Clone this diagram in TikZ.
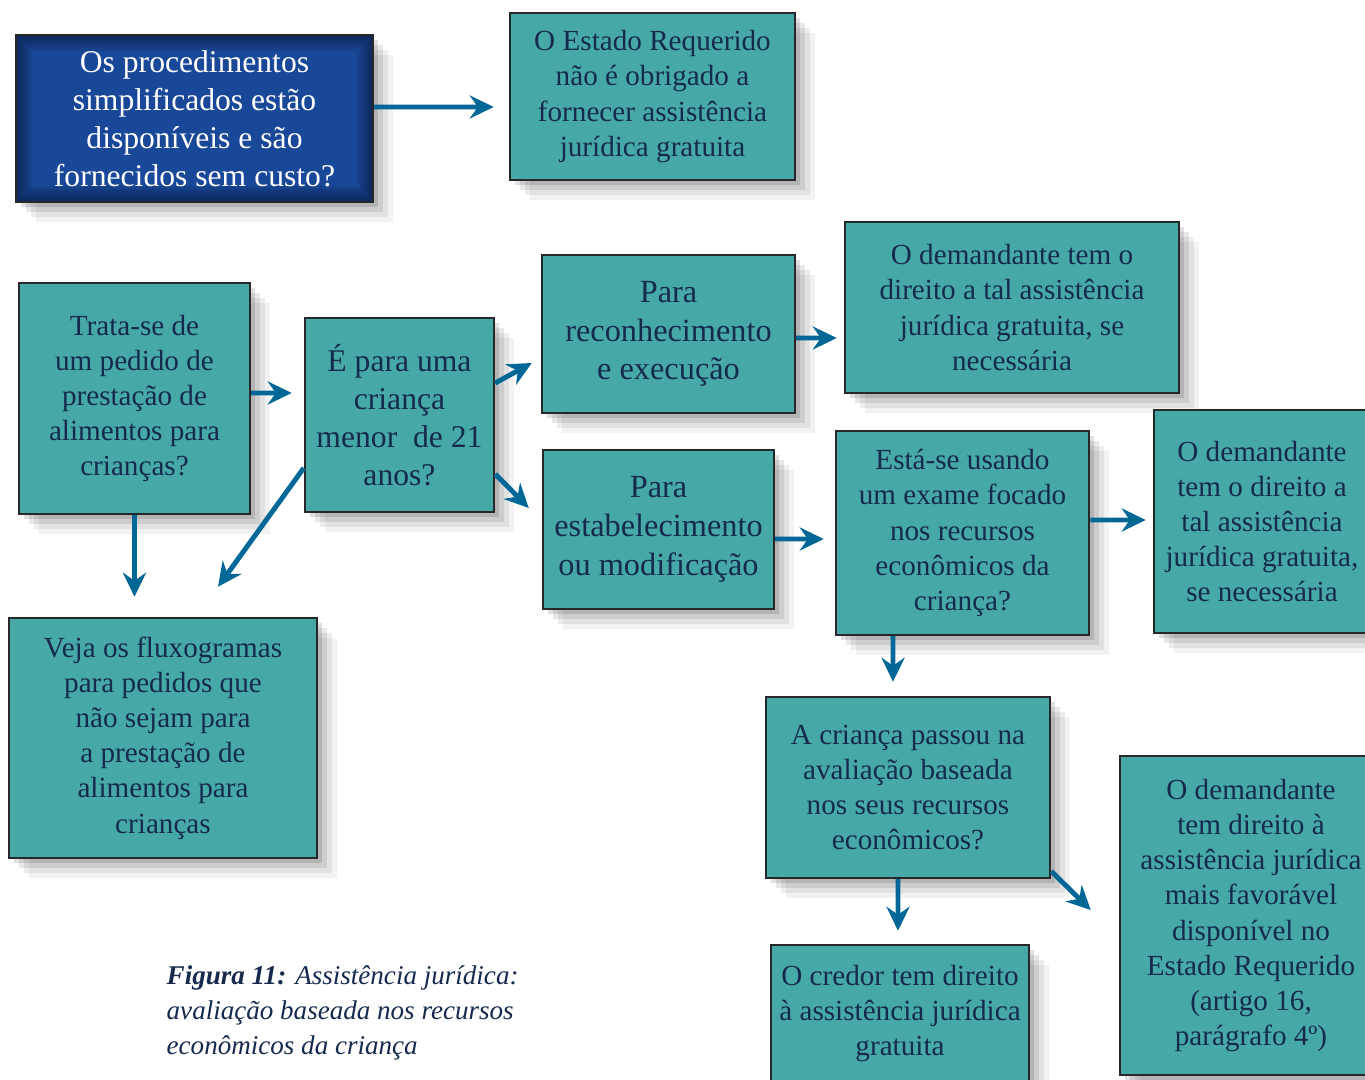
\documentclass[tikz,border=0pt]{standalone}
\usepackage{fontspec}
\setmainfont{Liberation Serif}
\usetikzlibrary{arrows.meta}
\usetikzlibrary{shadows}
\definecolor{tealbox}{RGB}{71,168,168}
\definecolor{navytext}{RGB}{22,42,78}
\definecolor{darkblue}{RGB}{26,72,152}
\definecolor{edgeblue}{RGB}{8,26,66}
\definecolor{arrowblue}{RGB}{0,103,150}
\definecolor{boxline}{RGB}{40,40,40}
\tikzstyle{softshadow}=[drop shadow={shadow xshift=0.5mm, shadow yshift=-0.5mm, fill=black, opacity=0.12},
  drop shadow={shadow xshift=1mm, shadow yshift=-1mm, fill=black, opacity=0.09},
  drop shadow={shadow xshift=1.5mm, shadow yshift=-1.5mm, fill=black, opacity=0.07},
  drop shadow={shadow xshift=2mm, shadow yshift=-2mm, fill=black, opacity=0.05}]
\tikzstyle{flowbox}=[rectangle, draw=boxline, line width=0.7pt, fill=tealbox, text=navytext, align=center, inner sep=0pt, font=\fontsize{8.3}{10}\selectfont, softshadow]
\tikzstyle{bigbox}=[flowbox, font=\fontsize{9.2}{11}\selectfont]
\tikzstyle{questionbox}=[flowbox, fill=darkblue, text=white, font=\fontsize{9}{10.8}\selectfont,
  path picture={\foreach \w in {1.5pt,3pt,4.5pt,6pt,7.5pt,9pt}
    {\draw[edgeblue, opacity=0.14, line width=\w] (path picture bounding box.south west) rectangle (path picture bounding box.north east);}}]
\tikzstyle{flowarrow}=[draw=arrowblue, line width=1.4pt, -{Stealth[length=2.4mm, width=2.3mm, inset=0.8mm]}]

\begin{document}
\begin{tikzpicture}[x=0.1mm, y=-0.1mm]
	\useasboundingbox (0,0) rectangle (1365,1079);
	\clip (0,0) rectangle (1365,1079);

	\path (194.5,118.5) node[questionbox, minimum width=35.7mm, minimum height=16.7mm] (b_0) {Os procedimentos\\simplificados estão\\disponíveis e são\\fornecidos sem custo?}
	   (652.5,96.5) node[flowbox, minimum width=28.5mm, minimum height=16.7mm] (b_1) {O Estado Requerido\\não é obrigado a\\fornecer assistência\\jurídica gratuita}
	   (134.5,398.5) node[flowbox, minimum width=23.1mm, minimum height=23.1mm] (b_2) {Trata-se de\\um pedido de\\prestação de\\alimentos para\\crianças?}
	   (399.5,415) node[bigbox, font=\fontsize{9}{10.8}\selectfont, minimum width=18.9mm, minimum height=19.4mm] (b_3) {É para uma\\criança\\menor\ \ de 21\\anos?}
	   (668.5,334) node[bigbox, minimum width=25.3mm, minimum height=15.8mm] (b_4) {Para\\reconhecimento\\e execução}
	   (1012,307.5) node[flowbox, minimum width=33.4mm, minimum height=17.1mm] (b_5) {O demandante tem o\\direito a tal assistência\\jurídica gratuita, se\\necessária}
	   (658.5,529.5) node[bigbox, minimum width=23.1mm, minimum height=15.9mm] (b_6) {Para\\estabelecimento\\ou modificação}
	   (962.5,533) node[flowbox, minimum width=25.3mm, minimum height=20.4mm] (b_7) {Está-se usando\\um exame focado\\nos recursos\\econômicos da\\criança?}
	   (1262,521.5) node[flowbox, minimum width=21.6mm, minimum height=22.3mm] (b_8) {O demandante\\tem o direito a\\tal assistência\\jurídica gratuita,\\se necessária}
	   (163,738) node[flowbox, minimum width=30.8mm, minimum height=24mm] (b_9) {Veja os fluxogramas\\para pedidos que\\não sejam para\\a prestação de\\alimentos para\\crianças}
	   (908,787.5) node[flowbox, minimum width=28.4mm, minimum height=18.1mm] (b_10) {A criança passou na\\avaliação baseada\\nos seus recursos\\econômicos?}
	   (900,1013.5) node[flowbox, minimum width=25.8mm, minimum height=13.7mm] (b_11) {O credor tem direito\\à assistência jurídica\\gratuita}
	   (1251,915.5) node[flowbox, minimum width=26.2mm, minimum height=31.9mm] (b_12) {O demandante\\tem direito à\\assistência jurídica\\mais favorável\\disponível no\\Estado Requerido\\(artigo 16,\\parágrafo 4º)};

	% legenda
	\path (166,965) node[anchor=north west, align=left, inner sep=0pt, text=navytext, font=\itshape\fontsize{7.7}{10}\selectfont] (caption) {\textbf{Figura 11:} Assistência jurídica:\\avaliação baseada nos recursos\\econômicos da criança};

	\draw ([yshift=1.15mm]b_0.east) edge[flowarrow, shorten >=1.5mm] ([yshift=-1.05mm]b_1.west);
	\draw ([yshift=0.55mm]b_2.east) edge[flowarrow, shorten >=1.2mm] ([yshift=2.2mm]b_3.west);
	\draw (b_2.south) edge[flowarrow, shorten >=2mm] (b_2.south |- b_9.north);
	\draw ([yshift=-5.3mm]b_3.west) edge[flowarrow] ([xshift=5.5mm, yshift=3mm]b_9.north);
	\draw ([yshift=3.2mm]b_3.east) edge[flowarrow] ([xshift=-0.9mm, yshift=-2.9mm]b_4.west);
	\draw ([yshift=-5.9mm]b_3.east) edge[flowarrow] ([xshift=-1.3mm, yshift=2.15mm]b_6.west);
	\draw ([yshift=-0.4mm]b_4.east) edge[flowarrow] ([xshift=-0.7mm, yshift=-3.05mm]b_5.west);
	\draw ([yshift=-0.95mm]b_6.east) edge[flowarrow] ([xshift=-1.1mm, yshift=-0.6mm]b_7.west);
	\draw ([yshift=1.3mm]b_7.east) edge[flowarrow] ([xshift=-0.7mm, yshift=0.15mm]b_8.west);
	\draw ([xshift=-6.95mm]b_7.south) edge[flowarrow] ([xshift=-1.5mm, yshift=1.4mm]b_10.north);
	\draw ([xshift=-1mm]b_10.south) edge[flowarrow] ([xshift=-0.2mm, yshift=1.3mm]b_11.north);
	\draw ([yshift=0.8mm]b_10.south east) edge[flowarrow] ([xshift=-2.8mm, yshift=0.55mm]b_12.west);

\end{tikzpicture}
\end{document}
